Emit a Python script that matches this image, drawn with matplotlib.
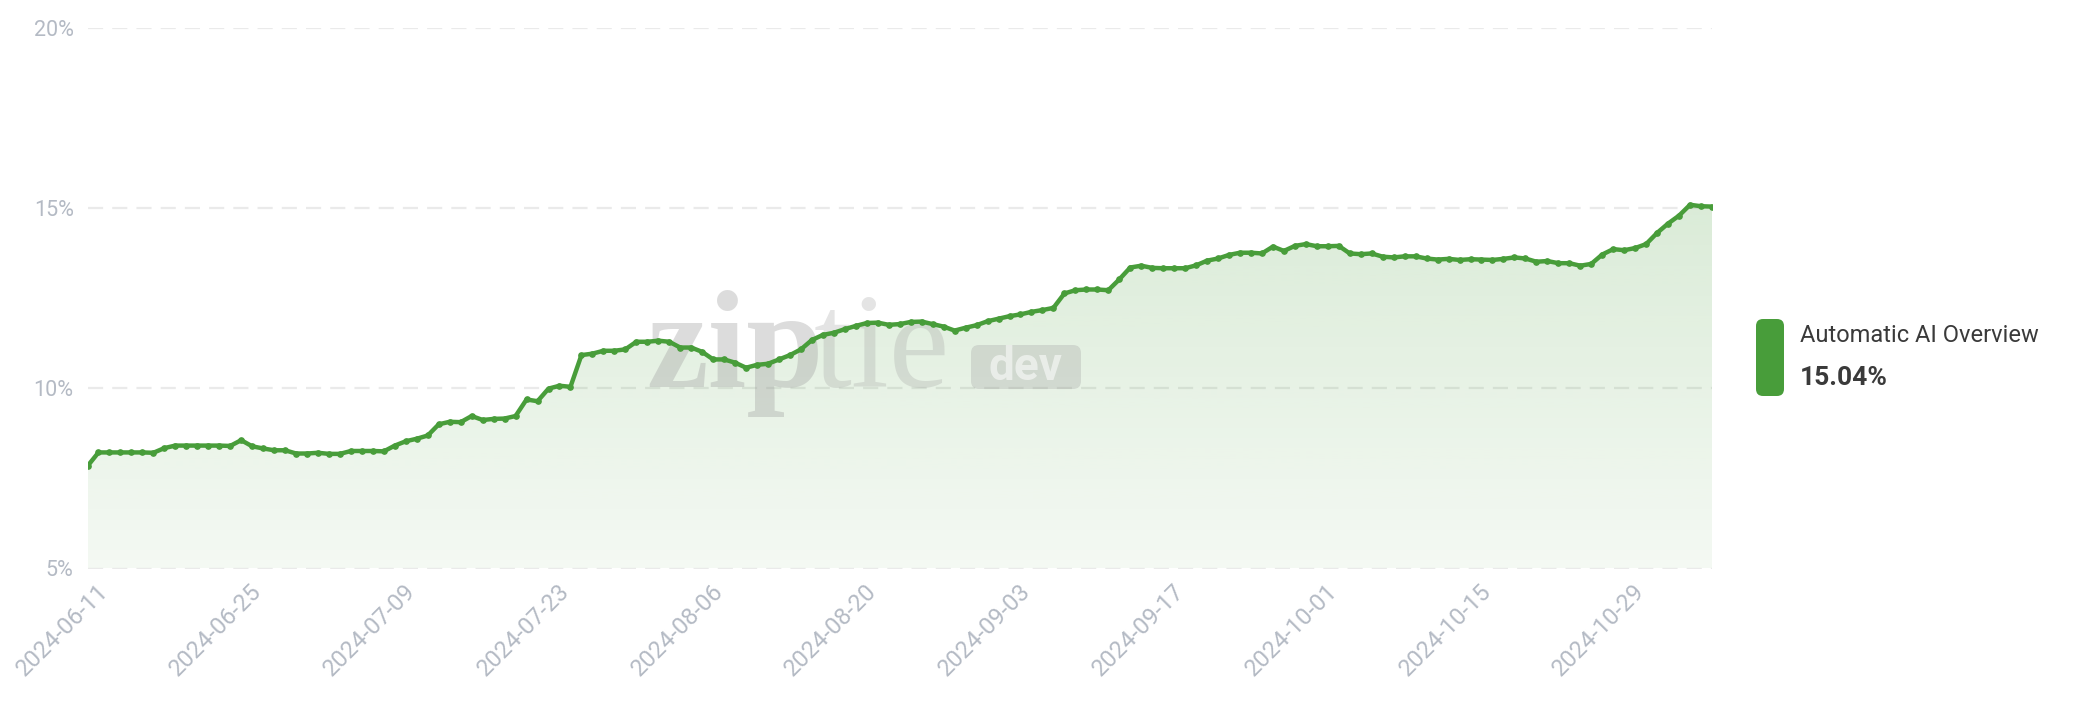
import numpy as np
import pandas as pd
import matplotlib
matplotlib.use("Agg")
import matplotlib.pyplot as plt
import matplotlib.dates as mdates
import matplotlib.transforms as mtransforms
from matplotlib.patches import FancyBboxPatch

# daily share of keywords showing an automatic AI Overview (%)
start_date = "2024-06-11"
ai_overview_pct = [
    7.84, 8.22, 8.22, 8.22, 8.22, 8.22, 8.21, 8.34, 8.41, 8.41,
    8.41, 8.41, 8.41, 8.40, 8.56, 8.39, 8.33, 8.28, 8.28, 8.19,
    8.19, 8.21, 8.18, 8.18, 8.26, 8.26, 8.26, 8.25, 8.41, 8.53,
    8.60, 8.69, 9.00, 9.07, 9.06, 9.23, 9.12, 9.15,
    9.16, 9.23, 9.69, 9.64, 9.99, 10.07, 10.04, 10.92, 10.96, 11.04,
    11.04, 11.08, 11.29, 11.29, 11.32, 11.29, 11.13, 11.13, 11.01, 10.80,
    10.80, 10.71, 10.57, 10.65, 10.68, 10.80, 10.92, 11.08, 11.34, 11.48,
    11.54, 11.64, 11.73, 11.81, 11.82, 11.76, 11.78,
    11.84, 11.85, 11.78, 11.71, 11.60, 11.68, 11.75, 11.86, 11.93, 12.00,
    12.05, 12.12, 12.17, 12.23, 12.63, 12.72, 12.74, 12.74, 12.72, 13.02,
    13.35, 13.40, 13.34, 13.33, 13.33, 13.33, 13.41, 13.54, 13.60, 13.70,
    13.76, 13.76, 13.74, 13.93, 13.81, 13.95,
    14.00, 13.94, 13.94, 13.95, 13.74, 13.72, 13.74, 13.65, 13.63, 13.66,
    13.66, 13.60, 13.57, 13.59, 13.56, 13.58, 13.57, 13.56, 13.59, 13.63,
    13.60, 13.51, 13.53, 13.47, 13.47, 13.40, 13.45, 13.71, 13.86, 13.83,
    13.89, 14.00, 14.31, 14.57, 14.79, 15.09, 15.05, 15.04,
]
tick_dates = ["2024-06-11", "2024-06-25", "2024-07-09", "2024-07-23", "2024-08-06",
              "2024-08-20", "2024-09-03", "2024-09-17", "2024-10-01", "2024-10-15",
              "2024-10-29"]
y_ticks = [5, 10, 15, 20]
series_name = "Automatic AI Overview"
latest_label = "15.04%"

GREEN = "#489d3a"
TICK_GRAY = "#b4bac4"
GRID_GRAY = "#eaeaea"

dates = pd.date_range(start_date, periods=len(ai_overview_pct), freq="D")
values = np.array(ai_overview_pct)
x = mdates.date2num(dates)

fig = plt.figure(figsize=(20.78, 7.08), dpi=100)
ax = fig.add_axes([87.5 / 2078, 1 - 568.5 / 708, (1712 - 87.5) / 2078, (568.5 - 27.8) / 708])

ax.set_xlim(x[0], x[-1])
ax.set_ylim(5, 20)

for yv in y_ticks:
    ax.axhline(yv, color=GRID_GRAY, lw=1.6, dashes=(6.8, 4.1), zorder=0.5)

# gradient area under the line
poly = ax.fill_between(x, values, 5, facecolor="none", edgecolor="none")
grad = np.zeros((256, 1, 4))
grad[:, 0, :3] = matplotlib.colors.to_rgb(GREEN)
grad[:, 0, 3] = np.linspace(0.20, 0.06, 256)
img = ax.imshow(grad, aspect="auto", extent=[x[0], x[-1], 5, values.max()],
                origin="upper", zorder=1, interpolation="bilinear")
img.set_clip_path(poly.get_paths()[0], transform=ax.transData)

# watermark
tr = fig.dpi_scale_trans
wm = "#a0a0a0"
ax.text(6.46, 3.21, "zip", transform=tr, family="Liberation Serif", weight="bold",
        fontsize=100, color=wm, alpha=0.36, va="baseline", ha="left", zorder=2)
ax.text(8.14, 3.21, "tie", transform=tr, family="Liberation Serif",
        fontsize=98, color=wm, alpha=0.28, va="baseline", ha="left", zorder=2)
box = FancyBboxPatch((9.71, 3.19), 1.10, 0.44, boxstyle="round,pad=0,rounding_size=0.08",
                     transform=tr, facecolor=wm, edgecolor="none", alpha=0.3, zorder=2)
ax.add_artist(box)
ax.text(10.26, 3.41, "dev", transform=tr, family="Roboto", weight="bold",
        fontsize=33, color="white", alpha=0.55, va="center", ha="center", zorder=2)

ax.plot(x, values, color=GREEN, lw=3.2, marker="o", markersize=3.8,
        solid_joinstyle="round", zorder=3)

ax.set_yticks(y_ticks)
ax.set_yticklabels([f"{v}%" for v in y_ticks])
ax.set_xticks(mdates.date2num(pd.to_datetime(tick_dates)))
ax.set_xticklabels(tick_dates)
ax.tick_params(axis="y", length=0, pad=10, labelsize=15.5, labelcolor=TICK_GRAY)
ax.tick_params(axis="x", length=0, pad=8, labelsize=17, labelcolor=TICK_GRAY)
for lab in ax.get_yticklabels() + ax.get_xticklabels():
    lab.set_family("Roboto")
shift = mtransforms.ScaledTranslation(0.09, 0, fig.dpi_scale_trans)
for lab in ax.get_xticklabels():
    lab.set_rotation(45)
    lab.set_ha("right")
    lab.set_va("top")
    lab.set_rotation_mode("anchor")
    lab.set_transform(lab.get_transform() + shift)
for s in ax.spines.values():
    s.set_visible(False)

# legend on the right
fig.patches.append(FancyBboxPatch((17.56, 3.12), 0.28, 0.77,
                                  boxstyle="round,pad=0,rounding_size=0.07",
                                  transform=tr, facecolor=GREEN, edgecolor="none"))
fig.text(18.00, 3.72, series_name, transform=tr, family="Roboto", fontsize=17,
         color="#3a3a3a", va="center", ha="left")
fig.text(18.00, 3.30, latest_label, transform=tr, family="Roboto", weight="bold",
         fontsize=19, color="#3a3a3a", va="center", ha="left")

fig.savefig("out.png", dpi=100)
